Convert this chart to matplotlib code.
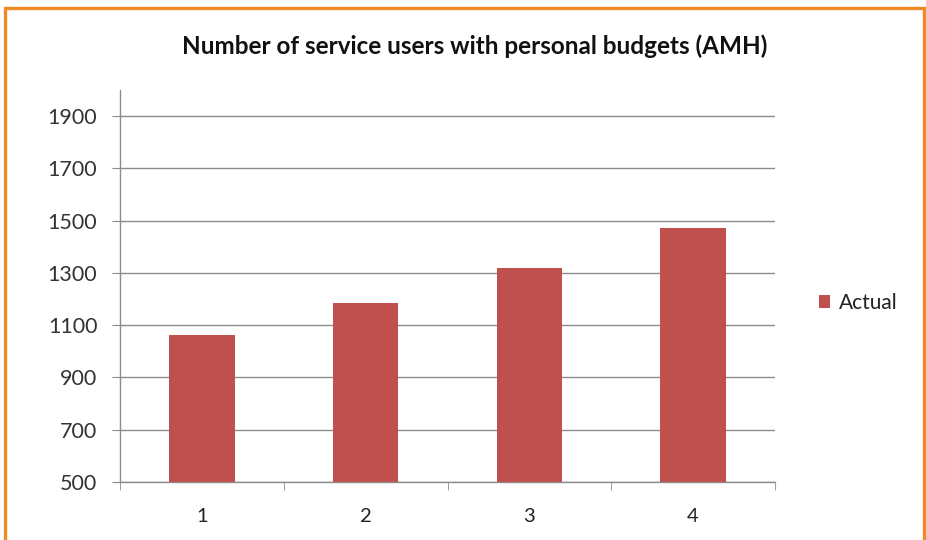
import matplotlib.pyplot as plt
from matplotlib.patches import Rectangle

# quarterly counts of service users on personal budgets
quarters = ["1", "2", "3", "4"]
actual = [1062, 1185, 1318, 1472]

plt.rcParams["font.family"] = ["Lato", "DejaVu Sans"]

fig = plt.figure(figsize=(9.26, 5.40), dpi=100)
fig.patch.set_facecolor("white")

# orange frame round the whole chart (open at the bottom)
fig.add_artist(Rectangle((5 / 926, -0.1), 919 / 926, 1.1 - 8 / 540,
                         transform=fig.transFigure, fill=False,
                         edgecolor="#F08A24", linewidth=2.4))

ax = fig.add_axes([120 / 926, 58 / 540, 655 / 926, 392 / 540])

x = range(1, len(quarters) + 1)
ax.bar(x, actual, width=0.4, color="#C0504D", label="Actual", zorder=3)

ax.set_xlim(0.5, len(quarters) + 0.5)
ax.set_ylim(500, 2000)
ax.set_yticks(range(500, 2000, 200))
ax.set_xticks(list(x))
ax.set_xticklabels(quarters)
ax.set_xticks([i + 0.5 for i in range(len(quarters) + 1)], minor=True)

ax.grid(axis="y", color="#8C8C8C", linewidth=1.0, zorder=0)
for side in ("top", "right"):
    ax.spines[side].set_visible(False)
for side in ("left", "bottom"):
    ax.spines[side].set_color("#8C8C8C")
    ax.spines[side].set_linewidth(1.0)

ax.tick_params(axis="y", which="major", length=5.8, color="#8C8C8C",
               labelsize=15.5, labelcolor="#333333", pad=10.5)
ax.tick_params(axis="x", which="major", length=0, labelsize=14.5,
               labelcolor="#222222", pad=19)
ax.tick_params(axis="x", which="minor", length=6, color="#8C8C8C",
               direction="out")

fig.text(475 / 926, 1 - 46 / 540,
         "Number of service users with personal budgets (AMH)",
         ha="center", va="center", fontsize=17.5, fontweight="bold",
         color="#111111")

fig.legend(loc="center left", bbox_to_anchor=(800 / 926, 1 - 303 / 540),
           frameon=False, fontsize=15, handlelength=0.55, handleheight=0.55,
           handletextpad=0.4, labelcolor="#222222")

fig.savefig("out.png", dpi=100)
